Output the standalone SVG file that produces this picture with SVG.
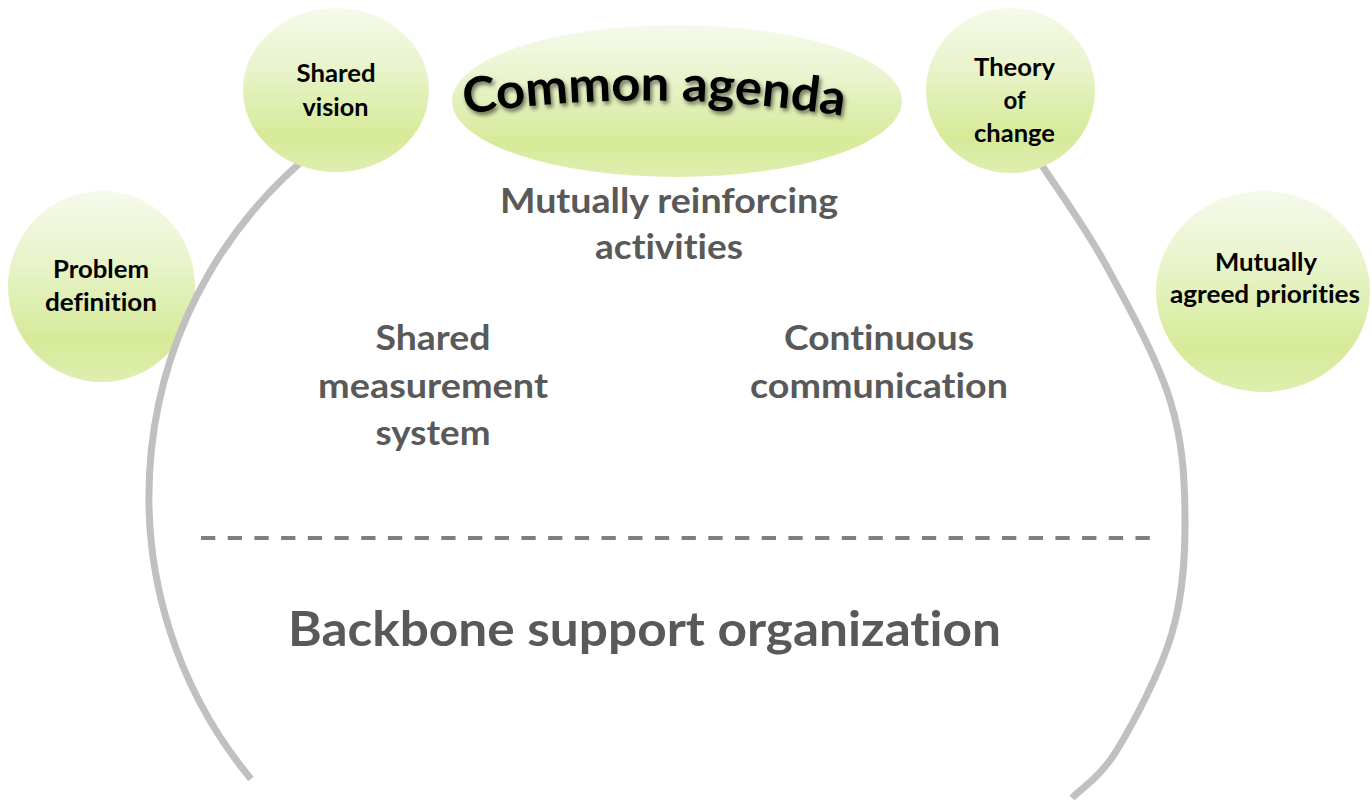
<svg xmlns="http://www.w3.org/2000/svg" width="1372" height="802" viewBox="0 0 1372 802">
  <defs>
    <linearGradient id="greenFill" x1="0" y1="0" x2="0" y2="1">
      <stop offset="0" stop-color="#f5faeb"/>
      <stop offset="0.35" stop-color="#e9f4cd"/>
      <stop offset="0.78" stop-color="#d6ea98"/>
      <stop offset="1" stop-color="#dfeeb0"/>
    </linearGradient>
    <filter id="softShadow" x="-10%" y="-30%" width="120%" height="160%">
      <feGaussianBlur in="SourceAlpha" stdDeviation="2"/>
      <feOffset dx="2" dy="3" result="blur"/>
      <feFlood flood-color="#000" flood-opacity="0.55"/>
      <feComposite in2="blur" operator="in"/>
      <feMerge>
        <feMergeNode/>
        <feMergeNode in="SourceGraphic"/>
      </feMerge>
    </filter>
    <path id="agendaArc" d="M 458 115 Q 655 85 850 117"/>
  </defs>
  <style>
    text { font-variant-ligatures: none; font-feature-settings: "liga" 0, "clig" 0; }
    .bubble { fill: url(#greenFill); stroke: none; }
    .bubble-label { font-family: Lato, "Open Sans", "Liberation Sans", sans-serif; font-weight: 700; font-size: 24px; fill: #000; text-anchor: middle; }
    .theme { font-family: Lato, "Open Sans", "Liberation Sans", sans-serif; font-weight: 700; font-size: 33.5px; fill: #595959; text-anchor: middle; }
    .backbone { font-family: Lato, "Open Sans", "Liberation Sans", sans-serif; font-weight: 700; font-size: 48px; fill: #595959; text-anchor: middle; }
    .agenda { font-family: Lato, "Open Sans", "Liberation Sans", sans-serif; font-weight: 700; font-size: 49px; fill: #000; }
    .ring { fill: none; stroke: #c0c0c0; stroke-width: 7; stroke-linecap: butt; }
    .divider { fill: none; stroke: #7f7f7f; stroke-width: 4; stroke-dasharray: 14.3 12.4; }
  </style>

  <rect width="1372" height="802" fill="#fff"/>

  <!-- left bubble sits underneath the ring line -->
  <g id="problem-definition">
    <ellipse class="bubble" cx="101.5" cy="286.5" rx="93.5" ry="95.5"/>
    <text class="bubble-label" x="101" y="278.3" textLength="96" lengthAdjust="spacingAndGlyphs">Problem</text>
    <text class="bubble-label" x="101" y="310.7" textLength="112" lengthAdjust="spacingAndGlyphs">definition</text>
  </g>

  <!-- ring arcs -->
  <g id="connectors">
    <path class="ring" d="M 318 148 A 443 443 0 0 0 251 779"/>
    <path class="ring" d="M 1021 137 C 1024.7 142 1028.7 145.3 1043 167 C 1057.3 188.7 1085.8 228.2 1107 267 C 1128.2 305.8 1157 358.3 1170 400 C 1183 441.7 1184.7 478.2 1185 517 C 1185.3 555.8 1183.3 594.2 1172 633 C 1160.7 671.8 1133.7 722.5 1117 750 C 1100.3 777.5 1079.5 790 1072 798"/>
  </g>

  <!-- separator between activities and backbone -->
  <g id="separator">
    <line class="divider" x1="201" y1="538" x2="1150" y2="538"/>
  </g>

  <g id="shared-vision">
    <ellipse class="bubble" cx="336" cy="90" rx="93" ry="82"/>
    <text class="bubble-label" x="336" y="82.3" textLength="79" lengthAdjust="spacingAndGlyphs">Shared</text>
    <text class="bubble-label" x="335.5" y="115.7" textLength="66" lengthAdjust="spacingAndGlyphs">vision</text>
  </g>

  <g id="common-agenda">
    <ellipse class="bubble" cx="677" cy="101" rx="225" ry="76"/>
    <text class="agenda" filter="url(#softShadow)">
      <textPath href="#agendaArc" startOffset="50%" text-anchor="middle" textLength="380" lengthAdjust="spacingAndGlyphs">Common agenda</textPath>
    </text>
  </g>

  <g id="theory-of-change">
    <ellipse class="bubble" cx="1010.5" cy="90.5" rx="84.5" ry="82.5"/>
    <text class="bubble-label" x="1014.5" y="76" textLength="81" lengthAdjust="spacingAndGlyphs">Theory</text>
    <text class="bubble-label" x="1014.5" y="109">of</text>
    <text class="bubble-label" x="1014.5" y="142.3" textLength="81" lengthAdjust="spacingAndGlyphs">change</text>
  </g>

  <g id="mutually-agreed-priorities">
    <ellipse class="bubble" cx="1263" cy="291.5" rx="107" ry="100.5"/>
    <text class="bubble-label" x="1266" y="270.7" textLength="102" lengthAdjust="spacingAndGlyphs">Mutually</text>
    <text class="bubble-label" x="1265" y="302.7" textLength="190" lengthAdjust="spacingAndGlyphs">agreed priorities</text>
  </g>

  <g id="mutually-reinforcing-activities">
    <text class="theme" x="669" y="213" textLength="338" lengthAdjust="spacingAndGlyphs">Mutually reinforcing</text>
    <text class="theme" x="669" y="259" textLength="148" lengthAdjust="spacingAndGlyphs">activities</text>
  </g>

  <g id="shared-measurement-system">
    <text class="theme" x="433" y="350" textLength="115" lengthAdjust="spacingAndGlyphs">Shared</text>
    <text class="theme" x="433" y="398" textLength="230" lengthAdjust="spacingAndGlyphs">measurement</text>
    <text class="theme" x="433" y="445" textLength="115" lengthAdjust="spacingAndGlyphs">system</text>
  </g>

  <g id="continuous-communication">
    <text class="theme" x="879" y="350" textLength="190" lengthAdjust="spacingAndGlyphs">Continuous</text>
    <text class="theme" x="879" y="398" textLength="258" lengthAdjust="spacingAndGlyphs">communication</text>
  </g>

  <g id="backbone-support-organization">
    <text class="backbone" x="644.5" y="646" textLength="713" lengthAdjust="spacingAndGlyphs">Backbone support organization</text>
  </g>
</svg>
